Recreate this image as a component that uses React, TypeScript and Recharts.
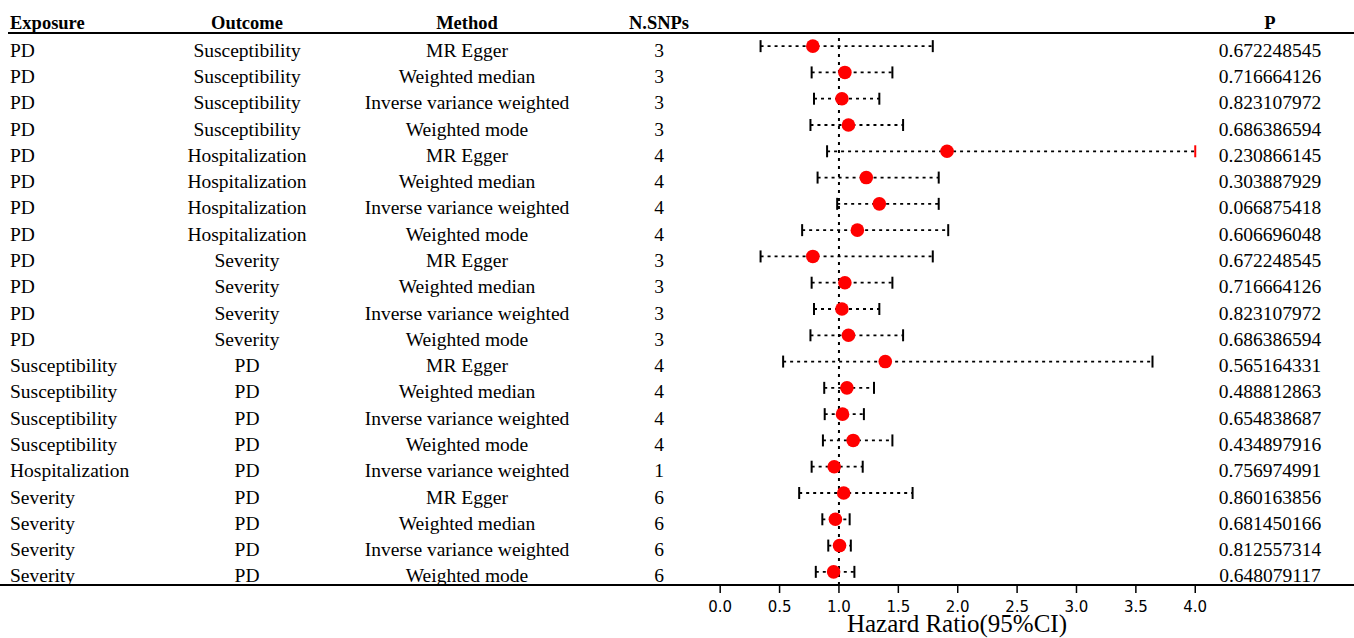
import { ScatterChart, Scatter, XAxis, YAxis, ReferenceLine } from "recharts";

const exposure = [
  "PD", "PD", "PD", "PD", "PD", "PD", "PD", "PD", "PD", "PD", "PD", "PD",
  "Susceptibility", "Susceptibility", "Susceptibility", "Susceptibility",
  "Hospitalization",
  "Severity", "Severity", "Severity", "Severity",
];
const outcome = [
  "Susceptibility", "Susceptibility", "Susceptibility", "Susceptibility",
  "Hospitalization", "Hospitalization", "Hospitalization", "Hospitalization",
  "Severity", "Severity", "Severity", "Severity",
  "PD", "PD", "PD", "PD", "PD", "PD", "PD", "PD", "PD",
];
const method = [
  "MR Egger", "Weighted median", "Inverse variance weighted", "Weighted mode",
  "MR Egger", "Weighted median", "Inverse variance weighted", "Weighted mode",
  "MR Egger", "Weighted median", "Inverse variance weighted", "Weighted mode",
  "MR Egger", "Weighted median", "Inverse variance weighted", "Weighted mode",
  "Inverse variance weighted",
  "MR Egger", "Weighted median", "Inverse variance weighted", "Weighted mode",
];
const nSnps = [3, 3, 3, 3, 4, 4, 4, 4, 3, 3, 3, 3, 4, 4, 4, 4, 1, 6, 6, 6, 6];
const pValues = [
  "0.672248545", "0.716664126", "0.823107972", "0.686386594",
  "0.230866145", "0.303887929", "0.066875418", "0.606696048",
  "0.672248545", "0.716664126", "0.823107972", "0.686386594",
  "0.565164331", "0.488812863", "0.654838687", "0.434897916",
  "0.756974991",
  "0.860163856", "0.681450166", "0.812557314", "0.648079117",
];
const hr = [
  0.78, 1.05, 1.025, 1.08, 1.91, 1.23, 1.34, 1.155, 0.78, 1.05, 1.025, 1.08,
  1.39, 1.067, 1.03, 1.12, 0.96, 1.04, 0.97, 1.005, 0.955,
];
const lower = [
  0.34, 0.77, 0.79, 0.76, 0.9, 0.82, 0.985, 0.69, 0.34, 0.77, 0.79, 0.76,
  0.53, 0.876, 0.88, 0.865, 0.77, 0.665, 0.86, 0.91, 0.805,
];
const upper = [
  1.79, 1.45, 1.34, 1.54, 4.05, 1.84, 1.84, 1.92, 1.79, 1.45, 1.34, 1.54,
  3.64, 1.295, 1.21, 1.45, 1.2, 1.62, 1.09, 1.1, 1.13,
];
const xTicks = [0, 0.5, 1, 1.5, 2, 2.5, 3, 3.5, 4];

const XLIM = 4;
const rows = exposure.map((_, i) => i + 1);
const points = hr.map((v, i) => ({ x: v, y: i + 1 }));
const intervals = rows.map((r, i) => [
  { x: lower[i], y: r, clipped: false },
  { x: Math.min(upper[i], XLIM), y: r, clipped: upper[i] > XLIM },
]);

const SERIF = "'Liberation Serif', 'Times New Roman', serif";

function TableTick(props: any) {
  const { y, payload } = props;
  const i = payload.value - 1;
  if (i < 0 || i >= exposure.length) return null;
  const by = y + 10.5;
  return (
    <g fontFamily={SERIF} fontSize={19.5} fill="#000">
      <text x={10} y={by}>{exposure[i]}</text>
      <text x={247} y={by} textAnchor="middle">{outcome[i]}</text>
      <text x={467} y={by} textAnchor="middle">{method[i]}</text>
      <text x={659} y={by} textAnchor="middle">{nSnps[i]}</text>
      <text x={1270} y={by} textAnchor="middle">{pValues[i]}</text>
    </g>
  );
}

function Cap(props: any) {
  const { cx, cy, payload } = props;
  return (
    <line
      x1={cx}
      x2={cx}
      y1={cy - 6}
      y2={cy + 6}
      stroke={payload.clipped ? "#ff0000" : "#000"}
      strokeWidth={2}
    />
  );
}

function Dot(props: any) {
  const { cx, cy } = props;
  return <circle cx={cx} cy={cy} r={6.8} fill="#ff0000" />;
}

export default function App() {
  return (
    <div style={{ position: "absolute", left: 0, top: 0, width: 1354, height: 638, background: "#fff" }}>
      <ScatterChart
        width={1354}
        height={638}
        margin={{ top: 33, right: 154, bottom: 13, left: 0 }}
      >
        <XAxis
          type="number"
          dataKey="x"
          domain={[-0.17, 4.04]}
          allowDataOverflow
          ticks={xTicks}
          interval={0}
          tickFormatter={(v: number) => v.toFixed(1)}
          height={40}
          axisLine={false}
          tickLine={{ stroke: "#000", strokeWidth: 1.5 }}
          tickSize={8}
          tickMargin={8}
          tick={{ fontSize: 15, fill: "#000", fontFamily: "'DejaVu Sans', sans-serif" }}
        />
        <YAxis
          type="number"
          dataKey="y"
          domain={[0.5, 21.5]}
          reversed
          ticks={rows}
          interval={0}
          width={700}
          axisLine={false}
          tickLine={false}
          tick={(p: any) => <TableTick {...p} />}
        />
        <ReferenceLine x={1} stroke="#000" strokeWidth={2} strokeDasharray="3 5" />
        {intervals.map((d, i) => (
          <Scatter
            key={i}
            data={d}
            line={{ stroke: "#000", strokeWidth: 1.8, strokeDasharray: "3 4" }}
            shape={(p: any) => <Cap {...p} />}
            isAnimationActive={false}
          />
        ))}
        <Scatter data={points} shape={(p: any) => <Dot {...p} />} isAnimationActive={false} />
      </ScatterChart>
      <svg
        width={1354}
        height={638}
        style={{ position: "absolute", left: 0, top: 0, pointerEvents: "none" }}
      >
        <g fontFamily={SERIF} fontSize={18.5} fontWeight="bold" fill="#000">
          <text x={10} y={29}>Exposure</text>
          <text x={247} y={29} textAnchor="middle">Outcome</text>
          <text x={467} y={29} textAnchor="middle">Method</text>
          <text x={659} y={29} textAnchor="middle">N.SNPs</text>
          <text x={1270} y={29} textAnchor="middle">P</text>
        </g>
        <line x1={8} x2={1354} y1={33} y2={33} stroke="#000" strokeWidth={2} />
        <line x1={0} x2={1354} y1={585} y2={585} stroke="#000" strokeWidth={2} />
        <text x={957} y={632} textAnchor="middle" fontFamily={SERIF} fontSize={25} fill="#000">
          Hazard Ratio(95%CI)
        </text>
      </svg>
    </div>
  );
}
